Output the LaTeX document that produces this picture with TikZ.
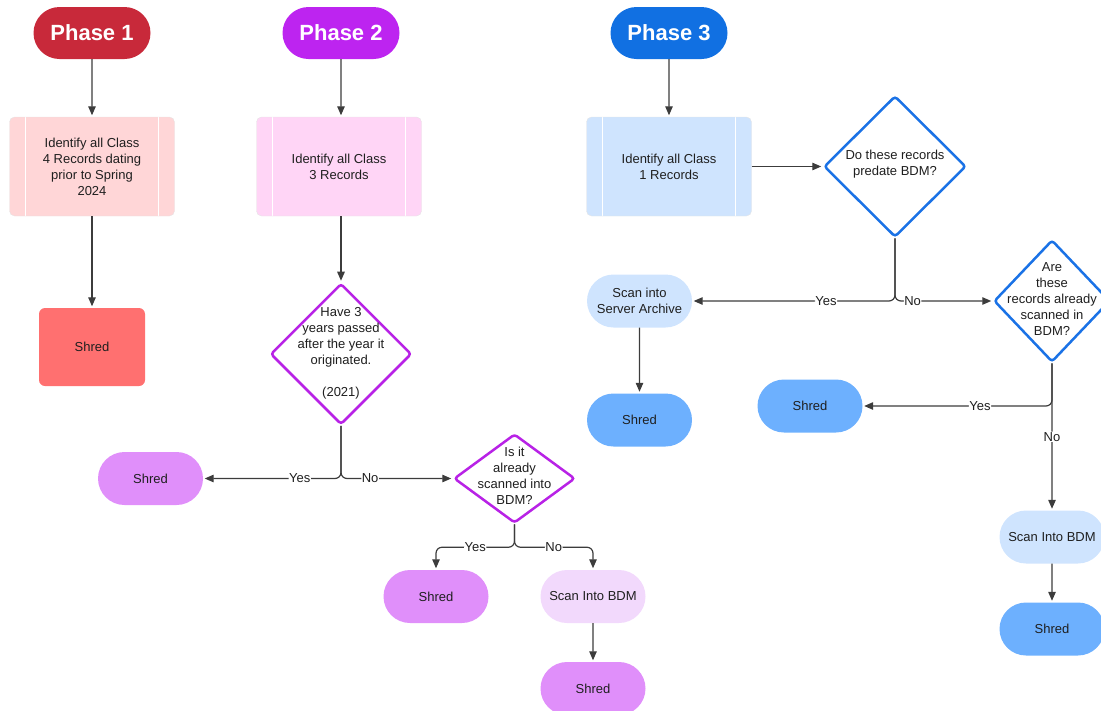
\documentclass[tikz,border=0pt]{standalone}
\usepackage{fontspec}
\setmainfont{Liberation Sans}
\usetikzlibrary{shapes.misc,shapes.geometric,arrows.meta}
\definecolor{phaseone}{HTML}{C8293A}
\definecolor{phasetwo}{HTML}{BD24F0}
\definecolor{phasethree}{HTML}{1170E2}
\definecolor{pinkbox}{HTML}{FFD6D7}
\definecolor{lilacbox}{HTML}{FFD5F6}
\definecolor{skybox}{HTML}{CFE4FE}
\definecolor{coral}{HTML}{FF7070}
\definecolor{violetfill}{HTML}{E08FFA}
\definecolor{violetpale}{HTML}{F2D9FC}
\definecolor{bluefill}{HTML}{6DB0FE}
\definecolor{purpline}{HTML}{B822E6}
\definecolor{blueline}{HTML}{1A72E6}
\definecolor{wire}{HTML}{3C3C3C}
\newcommand{\bodyfont}{\fontsize{13}{16}\selectfont}
\tikzset{
    common/.style={font=\bodyfont, text=black!88, align=center, inner sep=0pt},
    phase/.style={common, rounded rectangle, minimum width=117pt, minimum height=52pt, text=white, font=\fontsize{22}{26}\selectfont\bfseries},
    process/.style={common, draw=black!10, rounded corners=5pt, minimum width=165pt, minimum height=99pt,
        path picture={
            \draw[white, line width=1.2pt]
                ([xshift=16pt]path picture bounding box.north west) -- ([xshift=16pt]path picture bounding box.south west)
                ([xshift=-16pt]path picture bounding box.north east) -- ([xshift=-16pt]path picture bounding box.south east);
        }
    },
    term/.style={common, rounded rectangle, minimum width=105pt, minimum height=53pt},
    decision/.style={diamond, draw, line width=2.5pt, rounded corners=3pt, fill=white, inner sep=0pt},
    lbl/.style={font=\bodyfont, text=black!88, fill=white, inner sep=0.5pt},
    arr/.style={draw=wire, line width=1.2pt, -{Triangle[length=9pt,width=7.5pt]}, rounded corners=6pt, shorten >=1.5pt}
}

\begin{document}
\begin{tikzpicture}[x=1pt, y=-1pt]
    \useasboundingbox (0,0) rectangle (1101,710);

    % phase 1
    \node[phase, fill=phaseone] (ph1) at (92,33) {Phase 1};
    \node[process, fill=pinkbox] (id1) at (92,166.5) {Identify all Class\\4 Records dating\\prior to Spring\\2024};
    \node[common, fill=coral, rounded corners=6pt, minimum width=106pt, minimum height=78pt] (sh1) at (92,347) {Shred};

    % phase 2
    \node[phase, fill=phasetwo] (ph2) at (341,33) {Phase 2};
    \node[process, fill=lilacbox] (id2) at (339,166.5) {Identify all Class\\3 Records};
    \node[decision, draw=purpline, minimum width=141pt, minimum height=141pt] (q2a) at (341,354) {};
    \node[common] (q2atxt) at (341,353) {Have 3\\years passed\\after the year it\\originated.\\[16pt](2021)};
    \node[term, fill=violetfill] (sh2a) at (150.5,478.5) {Shred};
    \node[decision, draw=purpline, minimum width=121pt, minimum height=89pt] (q2b) at (514.5,478.5) {};
    \node[common] (q2btxt) at (514.5,476) {Is it\\already\\scanned into\\BDM?};
    \node[term, fill=violetfill] (sh2b) at (436,596.5) {Shred};
    \node[term, fill=violetpale] (sc2) at (593,596.5) {Scan Into BDM};
    \node[term, fill=violetfill] (sh2c) at (593,688.5) {Shred};

    % phase 3
    \node[phase, fill=phasethree] (ph3) at (669,33) {Phase 3};
    \node[process, fill=skybox] (id3) at (669,166.5) {Identify all Class\\1 Records};
    \node[decision, draw=blueline, minimum width=142pt, minimum height=141pt] (q3a) at (895,166.5) {};
    \node[common] (q3atxt) at (895,164) {Do these records\\predate BDM?};
    \node[term, fill=skybox] (sc3a) at (639.5,301) {Scan into\\Server Archive};
    \node[term, fill=bluefill] (sh3a) at (639.5,420) {Shred};
    \node[decision, draw=blueline, minimum width=116pt, minimum height=122pt] (q3b) at (1052,301) {};
    \node[common] (q3btxt) at (1052,299) {Are\\these\\records already\\scanned in\\BDM?};
    \node[term, fill=bluefill] (sh3b) at (810,406) {Shred};
    \node[term, fill=skybox] (sc3b) at (1052,537) {Scan Into BDM};
    \node[term, fill=bluefill] (sh3c) at (1052,629) {Shred};

    % connectors
    \draw[arr] (ph1) -- (id1);
    \draw[arr] (id1) -- (sh1);

    \draw[arr] (ph2) -- (ph2 |- id2.north);
    \draw[arr] (id2.south -| q2a) -- (q2a);
    \draw[arr] (q2a.south) |- node[lbl, pos=0.65] {Yes} (sh2a);
    \draw[arr] (q2a.south) |- node[lbl, pos=0.63] {No} (q2b);
    \draw[arr] (q2b.south) -- ++(0,23) -| node[lbl, pos=0.25] {Yes} (sh2b);
    \draw[arr] (q2b.south) -- ++(0,23) -| node[lbl, pos=0.25] {No} (sc2);
    \draw[arr] (sc2) -- (sh2c);

    \draw[arr] (ph3) -- (id3);
    \draw[arr] (id3) -- (q3a);
    \draw[arr] (q3a.south) |- node[lbl, pos=0.67] {Yes} (sc3a);
    \draw[arr] (q3a.south) |- node[lbl, pos=0.59] {No} (q3b);
    \draw[arr] (sc3a) -- (sh3a);
    \draw[arr] (q3b.south) |- node[lbl, pos=0.69] {Yes} (sh3b);
    \draw[arr] (q3b.south) -- node[lbl] {No} (sc3b);
    \draw[arr] (sc3b) -- (sh3c);
\end{tikzpicture}
\end{document}
